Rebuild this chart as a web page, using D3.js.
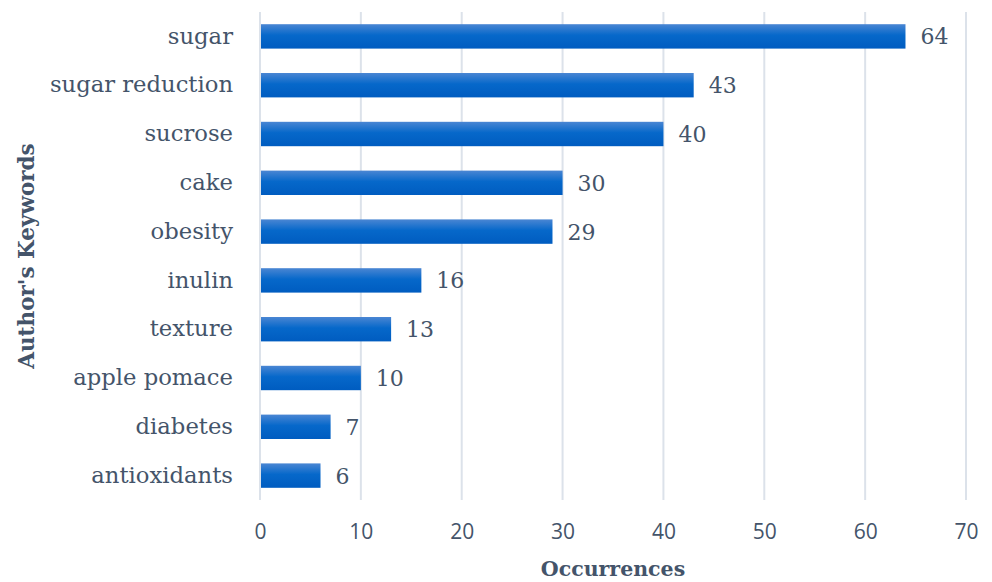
<!DOCTYPE html>
<html><head><meta charset="utf-8">
<script src="https://cdn.jsdelivr.net/npm/d3@7"></script>
<style>body{margin:0;background:#fff}svg{display:block}</style>
</head><body>
<svg id="chart" width="992" height="582"></svg>
<script>
const categories = ["sugar","sugar reduction","sucrose","cake","obesity","inulin","texture","apple pomace","diabetes","antioxidants"];
const values = [64,43,40,30,29,16,13,10,7,6];
const xTicks = [0,10,20,30,40,50,60,70];
const xTitle = "Occurrences";
const yTitle = "Author's Keywords";

const svg = d3.select("#chart");
const textColor = "#44546a";
const serif = "'DejaVu Serif', serif";
const mLeft = 260, mRight = 966, mTop = 12, mBottom = 500;

const x = d3.scaleLinear().domain([0,70]).range([mLeft,mRight]);
const y = d3.scaleBand().domain(categories).range([mTop,mBottom]).paddingInner(0.5).paddingOuter(0.25);

const defs = svg.append("defs");
const grad = defs.append("linearGradient").attr("id","barGrad").attr("x1",0).attr("y1",0).attr("x2",0).attr("y2",1);
grad.append("stop").attr("offset","0%").attr("stop-color","#4a86d3");
grad.append("stop").attr("offset","45%").attr("stop-color","#0668ca");
grad.append("stop").attr("offset","100%").attr("stop-color","#005cc0");

// gridlines
svg.append("g").selectAll("line").data(xTicks).join("line")
  .attr("x1",d=>x(d)).attr("x2",d=>x(d)).attr("y1",mTop).attr("y2",mBottom)
  .attr("stroke","#dce2ea").attr("stroke-width",2);

// x axis labels
const xAxis = d3.axisBottom(x).tickValues(xTicks).tickSize(0).tickPadding(0);
const gx = svg.append("g").attr("transform",`translate(0,${mBottom})`).call(xAxis);
gx.select(".domain").remove();
gx.selectAll("text").attr("y",39).attr("dy",0).attr("fill",textColor)
  .style("font-family","'Open Sans', sans-serif").style("font-size","21px");

// bars
svg.append("g").selectAll("rect").data(values).join("rect")
  .attr("x",x(0)+1).attr("y",(d,i)=>y(categories[i]))
  .attr("width",d=>x(d)-x(0)-1).attr("height",y.bandwidth())
  .attr("fill","url(#barGrad)");

// value labels
svg.append("g").selectAll("text").data(values).join("text")
  .attr("x",d=>x(d)+15).attr("y",(d,i)=>y(categories[i])+y.bandwidth()/2)
  .attr("dy","0.36em").attr("fill",textColor)
  .style("font-family",serif).style("font-size","22px").text(d=>d);

// category labels
const yAxis = d3.axisLeft(y).tickSize(0).tickPadding(0);
const gy = svg.append("g").attr("transform",`translate(233,0)`).call(yAxis);
gy.select(".domain").remove();
gy.selectAll("text").attr("x",0).attr("dy","0.32em").attr("fill",textColor)
  .style("font-family",serif).style("font-size","22.7px");

// axis titles
svg.append("text").attr("x",(mLeft+mRight)/2).attr("y",576).attr("text-anchor","middle")
  .attr("fill",textColor).style("font-family",serif).style("font-weight","bold").style("font-size","20.5px").text(xTitle);
svg.append("text").attr("transform",`translate(34,${(mTop+mBottom)/2}) rotate(-90)`).attr("text-anchor","middle")
  .attr("fill",textColor).style("font-family",serif).style("font-weight","bold").style("font-size","21.5px").text(yTitle);
</script>
</body></html>
